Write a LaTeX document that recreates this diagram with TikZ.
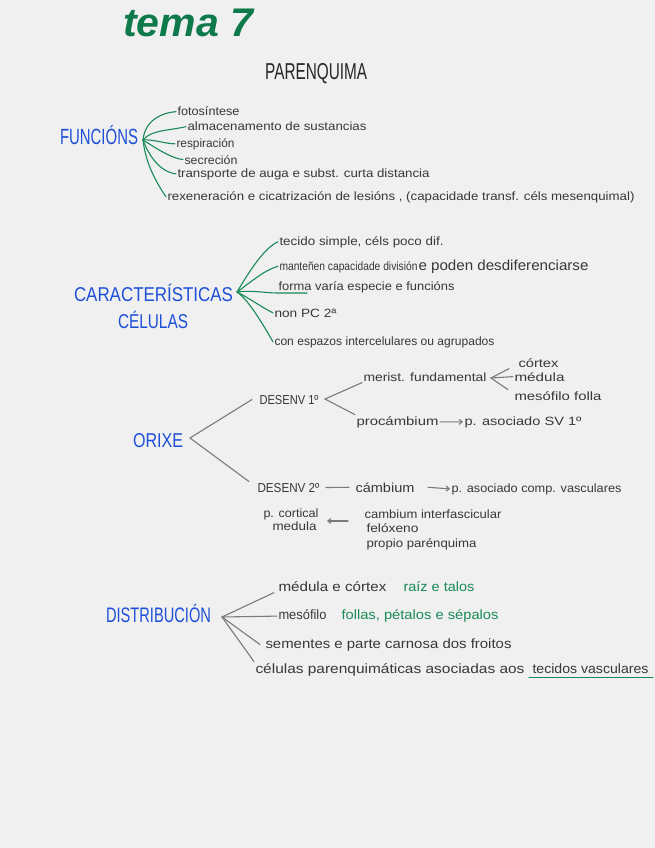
\documentclass[tikz,border=0pt]{standalone}
\usepackage{fontspec}
\setmainfont{Liberation Sans}
\usepackage{graphicx}
\usetikzlibrary{arrows.meta}
\definecolor{bg}{HTML}{F0F0F0}
\definecolor{ink}{HTML}{383838}
\definecolor{hblue}{HTML}{1E4FD8}
\definecolor{hgreen}{HTML}{198A57}
\definecolor{tgreen}{HTML}{0E7A4B}
\definecolor{lgray}{HTML}{7A7A7A}
\newcommand\fitw[2]{\resizebox{#1pt}{\height}{#2}}
\begin{document}
\begin{tikzpicture}[x=1pt,y=-1pt,
  txt/.style={inner sep=0pt,outer sep=1.5pt,anchor=base west,text=ink,font=\fontsize{12}{14}\selectfont},
  txl/.style={txt,font=\fontsize{13.5}{16}\selectfont},
  headtxt/.style={inner sep=0pt,outer sep=1pt,anchor=base west,text=hblue,font=\fontsize{21}{24}\selectfont},
  gline/.style={draw=hgreen,line width=1.1pt,line cap=round},
  kline/.style={draw=lgray,line width=1.1pt,line cap=round},
  arr/.style={kline,-{Straight Barb[length=3pt,width=5pt]}},
]
\fill[bg] (0,0) rectangle (655,848);
\useasboundingbox (0,0) rectangle (655,848);

% title
\node[inner sep=0pt,anchor=base west,text=tgreen,font=\fontsize{40}{44}\selectfont\bfseries\itshape] (title) at (123,37) {\fitw{130}{tema 7}};
\node[inner sep=0pt,anchor=base west,text=black!85,font=\fontsize{23}{26}\selectfont] (paren) at (265,80) {\fitw{102}{PARENQUIMA}};

% FUNCIONS
\node[headtxt,font=\fontsize{22}{24}\selectfont] (fun) at (59,144) {\fitw{78}{FUNCIÓNS}};
\coordinate (hf) at (143,140);
\node[txt] (f1) at (176,116) {\fitw{62}{fotosíntese}};
\node[txt] (f2) at (186,131) {\fitw{179}{almacenamento de sustancias}};
\node[txt] (f3) at (175,147) {\fitw{58}{respiración}};
\node[txt] (f4) at (183,164) {\fitw{53}{secreción}};
\node[txt] (f5) at (176,177) {\fitw{252}{transporte de auga e subst. curta distancia}};
\node[txt] (f6) at (166,200) {\fitw{467}{rexeneración e cicatrización de lesións , (capacidade transf. céls mesenquimal)}};
\draw[gline] (hf) .. controls +(2,-20) and +(-14,1) .. (f1.west);
\draw[gline] (hf) .. controls +(8,-10) and +(-18,4) .. (f2.west);
\draw[gline] (hf) .. controls +(10,-1) and +(-10,0) .. (f3.west);
\draw[gline] (hf) .. controls +(10,6) and +(-14,-2) .. (f4.west);
\draw[gline] (hf) .. controls +(6,16) and +(-16,-2) .. (f5.west);
\draw[gline] (hf) .. controls +(3,26) and +(-8,-12) .. (f6.west);

% CARACTERISTICAS
\node[headtxt,font=\fontsize{20}{24}\selectfont] (car) at (73,301) {\fitw{159}{CARACTERÍSTICAS}};
\node[headtxt,font=\fontsize{20}{24}\selectfont] (cel) at (117,328) {\fitw{70}{CÉLULAS}};
\coordinate (hc) at (237,292);
\node[txt] (c1) at (278,245) {\fitw{164}{tecido simple, céls poco dif.}};
\node[txt] (c2) at (278,270) {\fitw{138}{manteñen capacidade división}\hspace{1pt}\fitw{170}{\fontsize{14.5}{16}\selectfont e poden desdiferenciarse}};
\node[txt] (c3) at (277,290) {\fitw{176}{forma varía especie e funcións}};
\node[txt] (c4) at (273,317) {\fitw{62}{non PC 2ª}};
\node[txt] (c5) at (273,345) {\fitw{220}{con espazos intercelulares ou agrupados}};
\draw[gline] (hc) .. controls +(12,-20) and +(-14,6) .. (c1.west);
\draw[gline] (hc) .. controls +(14,-10) and +(-14,4) .. (c2.west);
\draw[gline] (hc) .. controls +(15,-2) and +(-12,0) .. ([yshift=1pt]c3.south west) -- ++(30,0);
\draw[gline] (hc) .. controls +(12,6) and +(-12,-6) .. (c4.west);
\draw[gline] (hc) .. controls +(12,8) and +(-8,-14) .. (c5.west);

% ORIXE
\node[headtxt,font=\fontsize{20}{24}\selectfont] (orx) at (132,447) {\fitw{50}{ORIXE}};
\coordinate (ov) at (190,438);
\node[txt,font=\fontsize{13}{15}\selectfont] (d1) at (258,404) {\fitw{59}{DESENV 1º}};
\node[txt,font=\fontsize{13}{15}\selectfont] (d2) at (256,492) {\fitw{62}{DESENV 2º}};
\draw[kline] ([xshift=-6pt]d1.west) -- (ov) -- ([xshift=-7pt,yshift=6pt]d2.west);

\coordinate (dv) at (325,399);
\node[txt] (m1) at (362,381) {\fitw{123}{merist. fundamental}};
\node[txt] (p1) at (355,425) {\fitw{82}{procámbium}};
\draw[kline] (m1.south west) -- (dv) -- (p1.north west);

\coordinate (mv) at (491,378);
\node[txt] (cx) at (517,367) {\fitw{40}{córtex}};
\node[txt] (md) at (513,381) {\fitw{50}{médula}};
\node[txt] (ms) at (513,400) {\fitw{87}{mesófilo folla}};
\draw[kline] ([xshift=-8pt]cx.south west) -- (mv) -- ([xshift=-5pt]ms.north west);
\draw[kline] (mv) -- (md.west);

\node[txt] (p2) at (463,425) {\fitw{117}{p. asociado SV 1º}};
\draw[arr] (p1.east) -- (p2.west);

\node[txt,font=\fontsize{13}{15}\selectfont] (cb) at (354,492) {\fitw{59}{cámbium}};
\node[txt] (p3) at (450,492) {\fitw{170}{p. asociado comp. vasculares}};
\draw[kline] ([xshift=5pt]d2.east) -- ([xshift=-5pt]cb.west);
\draw[arr] ([xshift=12pt]cb.east) -- (p3.west);

\node[txt] (pc) at (262,517) {\fitw{55}{p. cortical}};
\node[txt] (me) at (271,530) {\fitw{44}{medula}};
\node[txt] (ci) at (363,518) {\fitw{137}{cambium interfascicular}};
\node[txt] (fe) at (365,532) {\fitw{52}{felóxeno}};
\node[txt] (pp) at (365,547) {\fitw{110}{propio parénquima}};
\coordinate (ae) at (348,521);
\coordinate (as) at (327,521);
\draw[arr] (ae) -- (as);

% DISTRIBUCION
\node[headtxt,font=\fontsize{21}{24}\selectfont] (dis) at (105,622) {\fitw{105}{DISTRIBUCIÓN}};
\coordinate (hd) at (222,617);
\node[txl] (g1) at (277,591) {\fitw{108}{médula e córtex}};
\node[txl,text=hgreen] (g1b) at (402,591) {\fitw{71}{raíz e talos}};
\node[txl] (g2) at (277,619) {\fitw{48}{mesófilo}};
\node[txl,text=hgreen] (g2b) at (340,619) {\fitw{157}{follas, pétalos e sépalos}};
\node[txl] (g3) at (264,648) {\fitw{246}{sementes e parte carnosa dos froitos}};
\node[txl] (g4a) at (254,673) {\fitw{269}{células parenquimáticas asociadas aos}};
\node[txl] (g4b) at (531,673) {\fitw{116}{tecidos vasculares}};
\draw[kline] (hd) -- ([xshift=-3pt]g1.south west);
\draw[kline] (hd) -- ([yshift=-2pt]g2.west);
\draw[kline] (hd) -- ([xshift=-4pt]g3.west);
\draw[kline] (hd) -- (g4a.north west);
\draw[gline] ([xshift=-2pt,yshift=-2.5pt]g4b.south west) -- ([xshift=3pt,yshift=-2.5pt]g4b.south east);
\end{tikzpicture}
\end{document}
